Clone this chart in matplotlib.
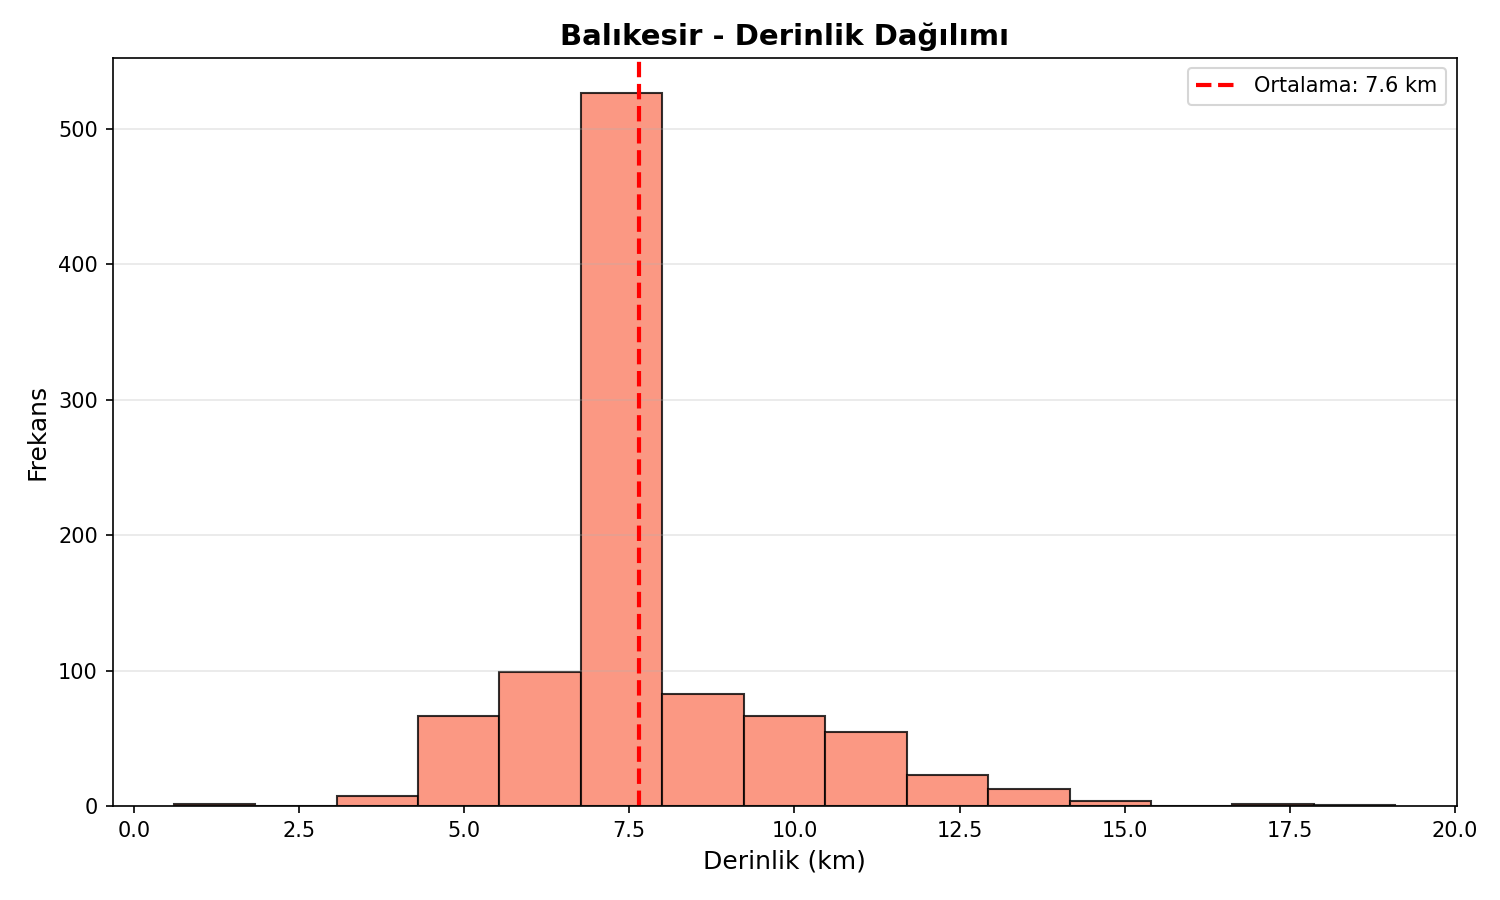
import matplotlib.pyplot as plt
import numpy as np

# histogram counts (15 bins)
bin_start = 0.6
bin_end = 19.1
counts = [2, 0, 8, 67, 99, 526, 83, 67, 55, 23, 13, 4, 0, 2, 1]
mean_depth = 7.64

bin_edges = np.linspace(bin_start, bin_end, len(counts) + 1)

fig = plt.figure(figsize=(10, 6), dpi=150)
plt.hist(bin_edges[:-1], bins=bin_edges, weights=counts,
         color='#FB7E64', edgecolor='black', alpha=0.8)
plt.axvline(mean_depth, color='red', linestyle='--', linewidth=2,
            label=f'Ortalama: {mean_depth:.1f} km')
plt.title('Balıkesir - Derinlik Dağılımı', fontsize=14, fontweight='bold')
plt.xlabel('Derinlik (km)', fontsize=12)
plt.ylabel('Frekans', fontsize=12)
plt.legend()
plt.grid(True, alpha=0.3, axis='y')
plt.subplots_adjust(left=0.075, right=0.971, top=0.936, bottom=0.104)
plt.savefig('out.png', dpi=150)
